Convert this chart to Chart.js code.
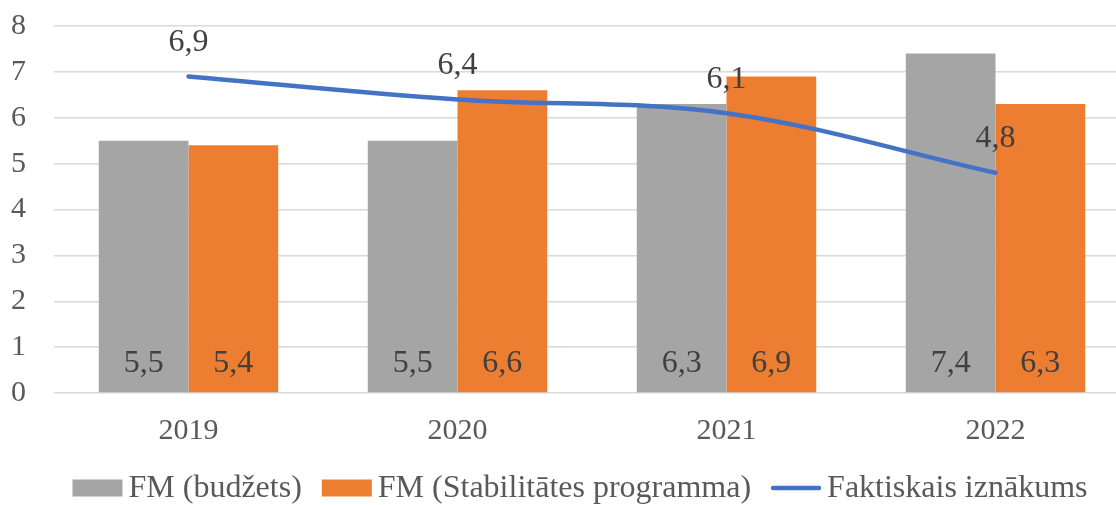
<!DOCTYPE html>
<html>
<head>
<meta charset="utf-8">
<script src="https://cdn.jsdelivr.net/npm/chart.js@4/dist/chart.umd.min.js"></script>
<style>
  html, body { margin: 0; padding: 0; background: #fff; overflow: hidden; }
  .chart { position: relative; width: 1130px; height: 505px; }
</style>
</head>
<body>
<div class="chart"><canvas id="fm_chart"></canvas></div>
<script>
// chart data
const years = ['2019', '2020', '2021', '2022'];
const budget_values = [5.5, 5.5, 6.3, 7.4];
const stability_values = [5.4, 6.6, 6.9, 6.3];
const actual_values = [6.9, 6.4, 6.1, 4.8];
const y_ticks = [0, 1, 2, 3, 4, 5, 6, 7, 8];

const serif = "'Liberation Serif', 'Times New Roman', serif";

const fmt = v => v.toFixed(1).replace('.', ',');

// draws the value labels (bars: near the base, line: above the point)
const valueLabels = {
  id: 'valueLabels',
  afterDatasetsDraw(chart) {
    const ctx = chart.ctx;
    const base = chart.scales.y.getPixelForValue(0);
    ctx.save();
    ctx.font = '32px ' + serif;
    ctx.fillStyle = '#404040';
    ctx.textAlign = 'center';
    ctx.textBaseline = 'middle';
    chart.data.datasets.forEach((ds, i) => {
      const meta = chart.getDatasetMeta(i);
      meta.data.forEach((el, j) => {
        const txt = fmt(ds.data[j]);
        if (ds.type === 'line') {
          ctx.fillText(txt, el.x, el.y - 34);
        } else {
          ctx.fillText(txt, el.x, base - 29);
        }
      });
    });
    ctx.restore();
  }
};

// own legend at the bottom, so the box / text gaps match the original
const bottomLegend = {
  id: 'bottomLegend',
  afterDraw(chart) {
    const ctx = chart.ctx;
    const boxW = 50, boxH = 17, gap = 6, itemGap = 20;
    const y = 488;
    ctx.save();
    ctx.font = '32px ' + serif;
    ctx.textBaseline = 'middle';
    const items = chart.data.datasets.map(ds => ({
      label: ds.label,
      color: ds.type === 'line' ? ds.borderColor : ds.backgroundColor,
      line: ds.type === 'line',
      w: ctx.measureText(ds.label).width
    }));
    let total = 0;
    items.forEach((it, i) => { total += boxW + gap + it.w + (i ? itemGap : 0); });
    let x = chart.width / 2 + 15 - total / 2;
    items.forEach(it => {
      if (it.line) {
        ctx.strokeStyle = it.color;
        ctx.lineWidth = 4.5;
        ctx.lineCap = 'round';
        ctx.beginPath();
        ctx.moveTo(x + 2, y);
        ctx.lineTo(x + boxW - 2, y);
        ctx.stroke();
      } else {
        ctx.fillStyle = it.color;
        ctx.fillRect(x, y - boxH / 2, boxW, boxH);
      }
      ctx.fillStyle = '#595959';
      ctx.fillText(it.label, x + boxW + gap, y + 1);
      x += boxW + gap + it.w + itemGap;
    });
    ctx.restore();
  }
};

const data = {
  labels: years,
  datasets: [{
    type: 'bar',
    label: 'FM (budžets)',
    data: budget_values,
    backgroundColor: '#A5A5A5',
    order: 2
  },
  {
    type: 'bar',
    label: 'FM (Stabilitātes programma)',
    data: stability_values,
    backgroundColor: '#ED7D31',
    order: 2
  },
  {
    type: 'line',
    label: 'Faktiskais iznākums',
    data: actual_values,
    borderColor: '#4472C4',
    backgroundColor: '#4472C4',
    borderWidth: 4.5,
    borderCapStyle: 'round',
    pointRadius: 0,
    tension: 0.35,
    order: 1
  }]
};

const config = {
  type: 'bar',
  data: data,
  plugins: [valueLabels, bottomLegend],
  options: {
    responsive: true,
    maintainAspectRatio: false,
    animation: false,
    layout: { padding: { top: 0, left: 11, right: 0, bottom: 44 } },
    datasets: {
      bar: { categoryPercentage: 0.667, barPercentage: 1.0 }
    },
    plugins: {
      tooltip: { enabled: false },
      legend: { display: false }
    },
    scales: {
      x: {
        grid: { display: false },
        border: { display: false },
        ticks: { color: '#595959', font: { family: serif, size: 30 }, padding: 12 }
      },
      y: {
        min: 0,
        max: 8,
        afterBuildTicks: axis => { axis.ticks = y_ticks.map(v => ({ value: v })); },
        afterFit: axis => { axis.width = 54 - 11; },
        grid: { color: '#D9D9D9', lineWidth: 1.5, drawTicks: false },
        border: { display: false },
        ticks: { color: '#595959', font: { family: serif, size: 30 }, padding: 8, crossAlign: 'far' }
      }
    }
  }
};

new Chart(document.getElementById('fm_chart'), config);
</script>
</body>
</html>
